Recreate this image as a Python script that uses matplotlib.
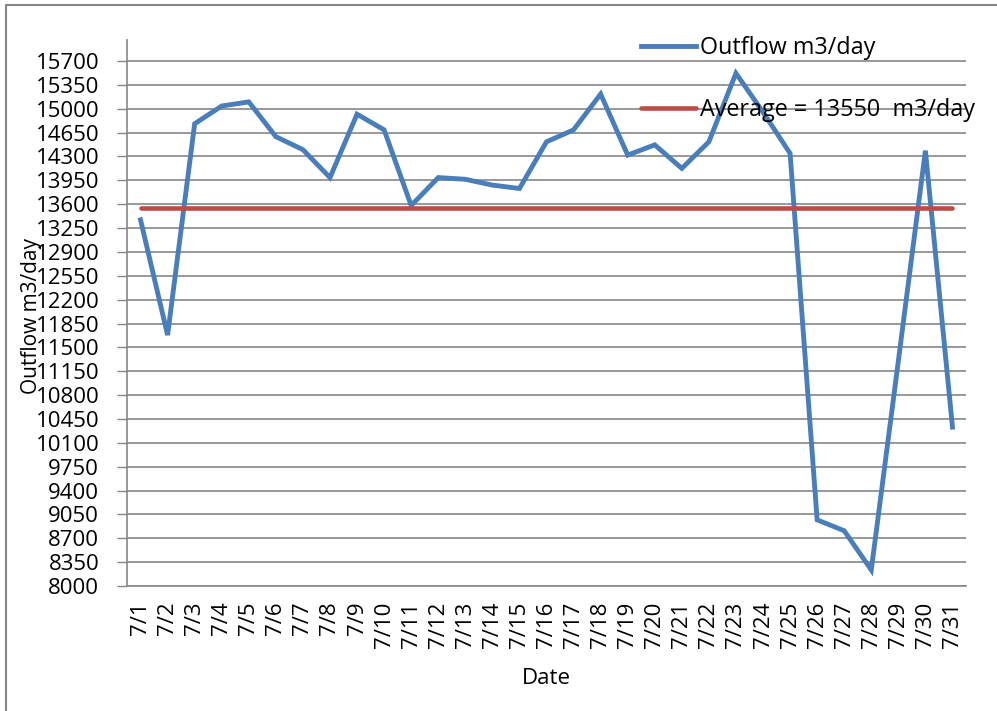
import matplotlib.pyplot as plt
from matplotlib.patches import Rectangle

dates = [f"7/{d}" for d in range(1, 32)]
outflow = [13370, 11680, 14780, 15040, 15100, 14590, 14400, 13990, 14920, 14690,
           13580, 13990, 13965, 13880, 13830, 14515, 14690, 15215, 14320, 14470,
           14125, 14515, 15520, 14950, 14345, 8970, 8810, 8235, 11300, 14385,
           10330]
average = 13550
y_ticks = list(range(8000, 15701, 350))

plt.rcParams["font.family"] = ["Open Sans", "DejaVu Sans"]
grey = "#868686"

fig = plt.figure(figsize=(9.97, 7.11), dpi=100)
ax = fig.add_axes([127 / 997, 1 - 586 / 711, 839 / 997, 546 / 711])

x = list(range(len(dates)))
ax.plot(x, outflow, color="#4A7EBB", lw=3.5, solid_joinstyle="miter",
        label="Outflow m3/day", zorder=3)
ax.plot(x, [average] * len(x), color="#BE4B48", lw=3.3, solid_capstyle="round",
        label=f"Average = {average}  m3/day", zorder=4)

ax.set_xlim(-0.5, len(dates) - 0.5)
ax.set_ylim(8000, 16008)
ax.set_yticks(y_ticks)
ax.set_xticks(x)
ax.set_xticklabels(dates, rotation=90, fontsize=16)
ax.tick_params(axis="y", labelsize=16, length=7, width=1, color=grey, pad=13)
ax.tick_params(axis="x", length=0, pad=11)
ax.grid(axis="y", color=grey, lw=1.2)
ax.set_axisbelow(True)
for side in ["top", "right"]:
    ax.spines[side].set_visible(False)
for side in ["left", "bottom"]:
    ax.spines[side].set_color(grey)
    ax.spines[side].set_linewidth(1.2)

fig.text(32 / 997, 1 - 316 / 711, "Outflow m3/day", rotation=90,
         ha="center", va="center", fontsize=15)
fig.text(546 / 997, 1 - 679 / 711, "Date", ha="center", va="center", fontsize=16)

leg = fig.legend(loc="upper left", bbox_to_anchor=(620 / 997, 1 - 15 / 711),
                 frameon=False, fontsize=16.8, handlelength=2.36, handletextpad=0.17,
                 labelspacing=1.62)

fig.patches.append(Rectangle((6 / 997, -0.1), 1.2, 1 - 5 / 711 + 0.1,
                             transform=fig.transFigure, fill=False,
                             edgecolor=grey, lw=1.5))

fig.savefig("out.png", dpi=100)
